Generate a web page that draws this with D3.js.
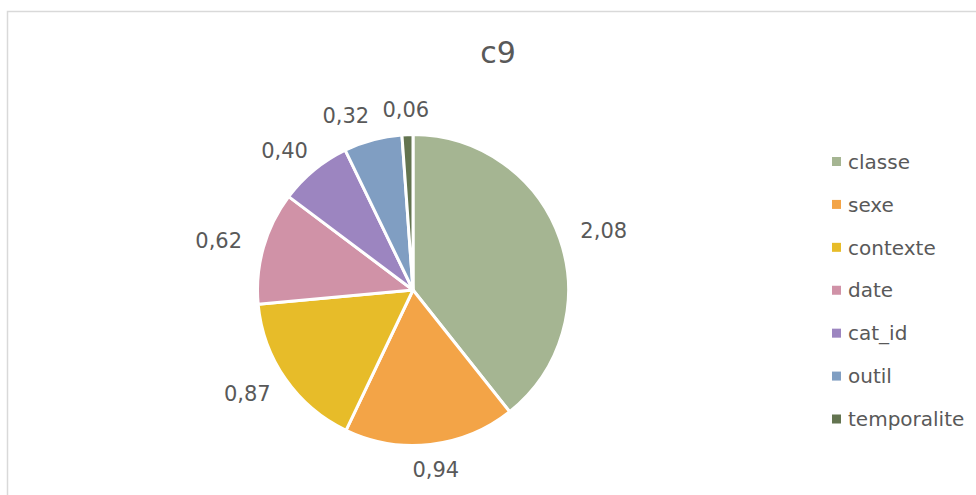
<!DOCTYPE html>
<html>
<head>
<meta charset="utf-8">
<script src="https://cdn.jsdelivr.net/npm/d3@7"></script>
<style>
  html, body { margin: 0; padding: 0; background: #fff; }
  svg { display: block; }
</style>
</head>
<body>
<svg id="chart" width="976" height="495"></svg>
<script>
// Contribution of each variable (c9)
const categories = ["classe", "sexe", "contexte", "date", "cat_id", "outil", "temporalite"];
const values = [2.08, 0.94, 0.87, 0.62, 0.40, 0.32, 0.06];
const colors = ["#a5b592", "#f3a447", "#e7bc29", "#d092a7", "#9c85c0", "#809ec2", "#637450"];
const title = "c9";

const W = 976, H = 495;
const FONT = "'DejaVu Sans', sans-serif";
const TEXT = "#595959";

const svg = d3.select("#chart");

// chart-area frame
svg.append("rect")
  .attr("x", 7.5).attr("y", 11.5)
  .attr("width", W + 10).attr("height", H + 10)
  .attr("fill", "#fff")
  .attr("stroke", "#d9d9d9").attr("stroke-width", 1.5);

svg.append("text")
  .attr("x", 498).attr("y", 63)
  .attr("text-anchor", "middle")
  .attr("font-family", FONT).attr("font-size", 30)
  .attr("fill", TEXT)
  .text(title);

const cx = 413, cy = 290, r = 155.5;

const data = categories.map((c, i) => ({ name: c, value: values[i], color: colors[i] }));

const pie = d3.pie().value(d => d.value).sort(null);
const arcs = pie(data);
const arc = d3.arc().innerRadius(0).outerRadius(r);

const g = svg.append("g").attr("transform", `translate(${cx},${cy})`);

g.selectAll("path.slice")
  .data(arcs)
  .join("path")
  .attr("class", "slice")
  .attr("d", arc)
  .attr("fill", d => d.data.color)
  .attr("stroke", "#fff")
  .attr("stroke-width", 3)
  .attr("stroke-linejoin", "round");

// outside-end value labels on an ellipse around the pie (labels are wider than tall)
const fmt = v => d3.format(".2f")(v).replace(".", ",");
const rxLabel = 202, ryLabel = 181;
const labels = arcs.map(d => {
  const a = (d.startAngle + d.endAngle) / 2;
  return {
    text: fmt(d.data.value),
    x: Math.sin(a) * rxLabel,
    y: -Math.cos(a) * ryLabel,
    w: 45, h: 17
  };
});

// move the left one of two crowded labels further left
for (let k = 0; k < 3; k++) {
  for (let i = 0; i < labels.length; i++) {
    for (let j = i + 1; j < labels.length; j++) {
      const A = labels[i], B = labels[j];
      const dy = Math.abs(A.y - B.y);
      const dx = Math.abs(A.x - B.x);
      const need = (A.w + B.w) / 2 + 15;
      if (dy < A.h + 6 && dx < need) {
        const left = A.x < B.x ? A : B;
        left.x -= need - dx;
      }
    }
  }
}

g.selectAll("text.lbl")
  .data(labels)
  .join("text")
  .attr("class", "lbl")
  .attr("x", d => d.x)
  .attr("y", d => d.y)
  .attr("dy", "0.36em")
  .attr("text-anchor", "middle")
  .attr("font-family", FONT).attr("font-size", 21)
  .attr("fill", TEXT)
  .text(d => d.text);

// legend
const legendY = d3.scalePoint().domain(categories).range([161.5, 419]);
const lg = svg.append("g");
const item = lg.selectAll("g").data(data).join("g")
  .attr("transform", d => `translate(832,${legendY(d.name)})`);
item.append("rect")
  .attr("x", 0).attr("y", -4.5)
  .attr("width", 9).attr("height", 9)
  .attr("fill", d => d.color);
item.append("text")
  .attr("x", 16).attr("y", 0)
  .attr("dy", "0.36em")
  .attr("font-family", FONT).attr("font-size", 20)
  .attr("fill", TEXT)
  .text(d => d.name);
</script>
</body>
</html>
